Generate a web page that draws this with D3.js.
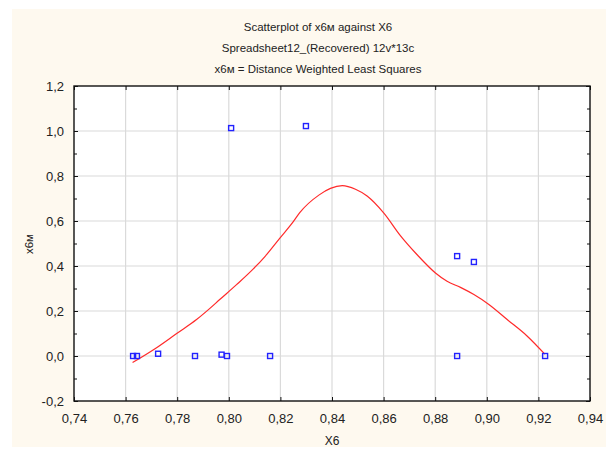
<!DOCTYPE html>
<html>
<head>
<meta charset="utf-8">
<script src="https://cdn.jsdelivr.net/npm/d3@7"></script>
<style>
    body { margin: 0; background: #ffffff; }
    text { font-family: "Liberation Sans", Arial, sans-serif; fill: #222; }
</style>
</head>
<body>
<svg id="svg1" width="608" height="450"></svg>
<script>
// scatter points (X6, x6м)
let pointsX = [0.7629, 0.7644, 0.7726, 0.7869, 0.7972, 0.7993, 0.8160, 0.8009, 0.8299, 0.8885, 0.8950, 0.8885, 0.9226];
let pointsY = [0.000, 0.000, 0.010, 0.000, 0.006, 0.000, 0.000, 1.013, 1.022, 0.444, 0.418, 0.000, 0.000];

// distance weighted least squares curve
let curveX = [0.7627, 0.7720, 0.7798, 0.7875, 0.7920, 0.7966, 0.8030, 0.8095, 0.8140, 0.8198, 0.8250, 0.8275, 0.8349, 0.8394, 0.8440, 0.8491, 0.8536, 0.8601, 0.8665, 0.8730, 0.8801, 0.8846, 0.8898, 0.8950, 0.9008, 0.9079, 0.9157, 0.9225];
let curveY = [-0.029, 0.037, 0.100, 0.162, 0.205, 0.252, 0.317, 0.387, 0.442, 0.524, 0.597, 0.637, 0.715, 0.745, 0.757, 0.741, 0.711, 0.635, 0.535, 0.450, 0.369, 0.332, 0.305, 0.273, 0.229, 0.162, 0.088, 0.008];

let xTicks = [0.74, 0.76, 0.78, 0.80, 0.82, 0.84, 0.86, 0.88, 0.90, 0.92, 0.94];
let yTicks = [-0.2, 0.0, 0.2, 0.4, 0.6, 0.8, 1.0, 1.2];
let yMinor = [-0.1, 0.1, 0.3, 0.5, 0.7, 0.9, 1.1];

let titles = ["Scatterplot of x6м against X6", "Spreadsheet12_(Recovered) 12v*13c", "x6м = Distance Weighted Least Squares"];

window.onload = function () {
    var svg = d3.select("#svg1"),
        left = 74, right = 590, top = 86, bottom = 401;

    svg.append("rect").attr("x", 12).attr("y", 9).attr("width", 594).attr("height", 438).attr("fill", "#fef9ef");
    svg.append("rect").attr("x", left).attr("y", top).attr("width", right - left).attr("height", bottom - top).attr("fill", "#ffffff");

    var xScale = d3.scaleLinear().domain([0.74, 0.94]).range([left, right]),
        yScale = d3.scaleLinear().domain([-0.2, 1.2]).range([bottom, top]);
    var fmt = function (d) { return d3.format(".2f")(d).replace(".", ","); };
    var fmt1 = function (d) { return d3.format(".1f")(d).replace(".", ",").replace("−", "-"); };

    // grid
    svg.append("g").selectAll("line").data(xTicks.slice(1, -1)).enter().append("line")
        .attr("x1", function (d) { return xScale(d); }).attr("x2", function (d) { return xScale(d); })
        .attr("y1", top).attr("y2", bottom).attr("stroke", "#dadada").attr("stroke-width", 1.2);
    svg.append("g").selectAll("line").data(yTicks.slice(1, -1)).enter().append("line")
        .attr("y1", function (d) { return yScale(d); }).attr("y2", function (d) { return yScale(d); })
        .attr("x1", left).attr("x2", right).attr("stroke", "#dadada").attr("stroke-width", 1.2);

    // axes with inner ticks
    var gx = svg.append("g").attr("transform", "translate(0," + bottom + ")")
        .call(d3.axisBottom(xScale).tickValues(xTicks).tickSizeInner(-4).tickSizeOuter(0).tickPadding(13).tickFormat(fmt));
    svg.append("g").attr("transform", "translate(0," + top + ")")
        .call(d3.axisTop(xScale).tickValues(xTicks).tickSizeInner(-4).tickSizeOuter(0).tickFormat(""));
    var gy = svg.append("g").attr("transform", "translate(" + left + ",0)")
        .call(d3.axisLeft(yScale).tickValues(yTicks).tickSizeInner(-4).tickSizeOuter(0).tickPadding(10).tickFormat(fmt1));
    svg.append("g").attr("transform", "translate(" + left + ",0)")
        .call(d3.axisLeft(yScale).tickValues(yMinor).tickSizeInner(-3).tickSizeOuter(0).tickFormat(""));
    svg.append("g").attr("transform", "translate(" + right + ",0)")
        .call(d3.axisRight(yScale).tickValues(yTicks).tickSizeInner(-4).tickSizeOuter(0).tickFormat(""));
    svg.append("g").attr("transform", "translate(" + right + ",0)")
        .call(d3.axisRight(yScale).tickValues(yMinor).tickSizeInner(-3).tickSizeOuter(0).tickFormat(""));
    svg.selectAll(".domain").remove();
    svg.selectAll(".tick line").attr("stroke", "#111");
    gx.selectAll("text").attr("font-size", 13).attr("font-family", "Liberation Sans, Arial, sans-serif").attr("fill", "#222");
    gy.selectAll("text").attr("font-size", 13).attr("font-family", "Liberation Sans, Arial, sans-serif").attr("fill", "#222");

    // frame
    svg.append("rect").attr("x", left).attr("y", top).attr("width", right - left).attr("height", bottom - top)
        .attr("fill", "none").attr("stroke", "#111").attr("stroke-width", 1.4);

    // curve
    var line = d3.line().x(function (d, i) { return xScale(curveX[i]); }).y(function (d) { return yScale(d); }).curve(d3.curveMonotoneX);
    svg.append("path").datum(curveY).attr("d", line).attr("fill", "none").attr("stroke", "#ff2a2a").attr("stroke-width", 1.2);

    // points
    svg.selectAll(".pt").data(pointsY).enter().append("rect").attr("class", "pt")
        .attr("x", function (d, i) { return xScale(pointsX[i]) - 2.5; }).attr("y", function (d) { return yScale(d) - 2.5; })
        .attr("width", 5).attr("height", 5).attr("fill", "none").attr("stroke", "#2222ff").attr("stroke-width", 1.4);

    // titles
    svg.selectAll(".title").data(titles).enter().append("text").attr("class", "title")
        .attr("x", 318).attr("y", function (d, i) { return 31 + i * 21; })
        .attr("text-anchor", "middle").attr("font-size", 11.5).text(function (d) { return d; });

    svg.append("text").attr("x", 332).attr("y", 445).attr("text-anchor", "middle").attr("font-size", 12).text("X6");
    svg.append("text").attr("transform", "translate(33,244) rotate(-90)").attr("text-anchor", "middle").attr("font-size", 11.5).text("x6м");
}
</script>
</body>
</html>
